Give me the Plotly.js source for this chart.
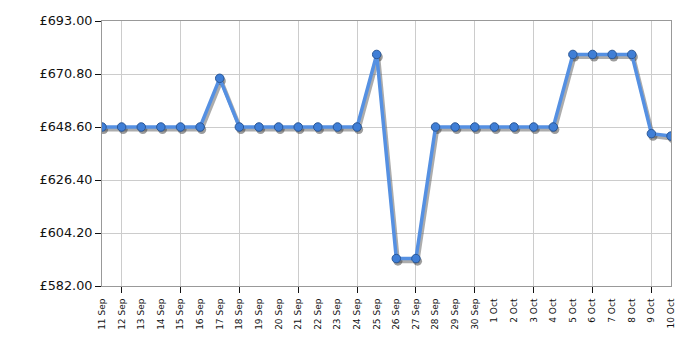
<!DOCTYPE html>
<html><head><meta charset="utf-8">
<script src="https://cdn.plot.ly/plotly-3.0.1.min.js"></script>
<style>html,body{margin:0;padding:0;background:#fff}#chart{width:700px;height:350px}</style>
</head><body><div id="chart"></div>
<script>
const dates = ["11 Sep","12 Sep","13 Sep","14 Sep","15 Sep","16 Sep","17 Sep","18 Sep","19 Sep","20 Sep",
"21 Sep","22 Sep","23 Sep","24 Sep","25 Sep","26 Sep","27 Sep","28 Sep","29 Sep","30 Sep",
"1 Oct","2 Oct","3 Oct","4 Oct","5 Oct","6 Oct","7 Oct","8 Oct","9 Oct","10 Oct"];
const prices = [648.60,648.60,648.60,648.60,648.60,648.60,668.99,648.60,648.60,648.60,
648.60,648.60,648.60,648.60,678.99,593.50,593.50,648.60,648.60,648.60,
648.60,648.60,648.60,648.60,678.99,678.99,678.99,678.99,645.80,644.80];
const yTicks = [582.00,604.20,626.40,648.60,670.80,693.00];

const W=700,H=350,L=102,R=29,T=21,B=64;
const pw=W-L-R, ph=H-T-B;
const n=dates.length;
const yMin=582, yMax=693;
const dxCat = 1.6*(n-1)/pw;      // shadow shift, in category units
const dyVal = 2.6*(yMax-yMin)/ph; // shadow shift, in value units

const gridDates = dates.filter((d,i)=>i%3===1);

const traces = [
 {x:dates,y:prices,xaxis:'x',yaxis:'y',mode:'lines',line:{width:0,color:'rgba(0,0,0,0)'},hoverinfo:'skip',showlegend:false},
 {x:dates,y:prices,xaxis:'x2',yaxis:'y2',mode:'lines+markers',
  line:{color:'rgba(90,90,90,0.5)',width:4},
  marker:{size:9,color:'rgba(60,60,60,0.5)',line:{width:0}},hoverinfo:'skip',showlegend:false},
 {x:dates,y:prices,xaxis:'x3',yaxis:'y3',mode:'lines+markers',
  line:{color:'#5590e2',width:3.5},
  marker:{size:8.5,color:'#3f7ed6',line:{width:1,color:'#2a5797'}},hoverinfo:'skip',showlegend:false}
];

const font = {family:'DejaVu Sans, Verdana, sans-serif',color:'#111'};
const layout = {
 width:W,height:H,margin:{l:L,r:R,t:T,b:B},
 paper_bgcolor:'#fff',plot_bgcolor:'#fff',showlegend:false,hovermode:false,
 font:font,
 xaxis:{type:'category',range:[0,n-1],tickvals:dates,ticktext:dates,tickangle:-90,
   tickfont:{size:9,family:font.family,color:'#111'},ticks:'',ticklabelstandoff:8,showgrid:false,
   showline:true,mirror:true,linecolor:'#999',linewidth:1,fixedrange:true,zeroline:false},
 yaxis:{range:[yMin,yMax],tickvals:yTicks,ticktext:yTicks.map(v=>'£'+v.toFixed(2)),
   tickfont:{size:12.8,family:font.family,color:'#111'},ticks:'outside',ticklen:6,tickcolor:'#111',
   showgrid:true,gridcolor:'#cccccc',gridwidth:1,showline:true,mirror:true,linecolor:'#999',
   zeroline:false,fixedrange:true},
 xaxis2:{type:'category',overlaying:'x',range:[-dxCat,n-1-dxCat],visible:false,fixedrange:true},
 yaxis2:{overlaying:'y',range:[yMin+dyVal,yMax+dyVal],visible:false,fixedrange:true},
 xaxis3:{type:'category',overlaying:'x',range:[0,n-1],tickvals:gridDates,showticklabels:false,
   ticks:'outside',ticklen:6,tickcolor:'#111',showgrid:true,gridcolor:'#cccccc',gridwidth:1,
   showline:false,zeroline:false,fixedrange:true},
 yaxis3:{overlaying:'y',range:[yMin,yMax],visible:false,fixedrange:true}
};
Plotly.newPlot('chart',traces,layout,{staticPlot:true,displayModeBar:false});
</script></body></html>
